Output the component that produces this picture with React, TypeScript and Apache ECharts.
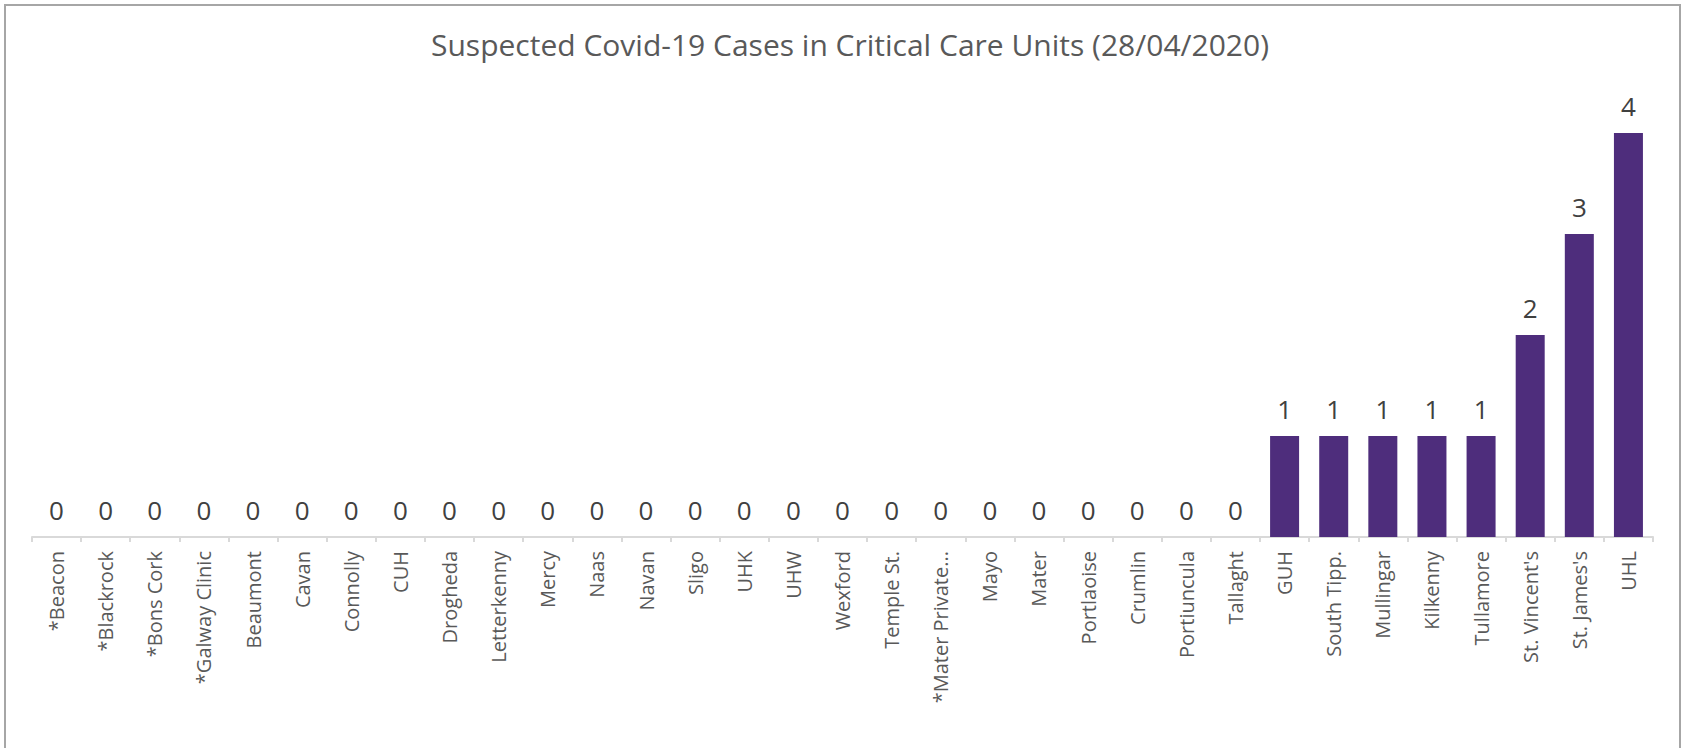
import React, { useEffect, useRef } from "react";
import * as echarts from "echarts";

const categories: string[] = [
  "*Beacon", "*Blackrock", "*Bons Cork", "*Galway Clinic", "Beaumont", "Cavan", "Connolly", "CUH",
  "Drogheda", "Letterkenny", "Mercy", "Naas", "Navan", "Sligo", "UHK", "UHW", "Wexford",
  "Temple St.", "*Mater Private...", "Mayo", "Mater", "Portlaoise", "Crumlin", "Portiuncula",
  "Tallaght", "GUH", "South Tipp.", "Mullingar", "Kilkenny", "Tullamore", "St. Vincent's",
  "St. James's", "UHL",
];

const cases: number[] = [
  0, 0, 0, 0, 0, 0, 0, 0, 0, 0, 0, 0, 0, 0, 0, 0, 0, 0, 0, 0, 0, 0, 0, 0, 0,
  1, 1, 1, 1, 1, 2, 3, 4,
];

const titleText = "Suspected Covid-19 Cases in Critical Care Units (28/04/2020)";

export default function App() {
  const ref = useRef<HTMLDivElement>(null);
  useEffect(() => {
    if (!ref.current) return;
    const chart = echarts.init(ref.current, undefined, { renderer: "svg" });
    chart.setOption({
      animation: false,
      backgroundColor: "#ffffff",
      title: {
        text: titleText,
        left: 845,
        textAlign: "center",
        top: 24,
        textStyle: {
          fontFamily: "Open Sans",
          fontSize: 30,
          fontWeight: "normal",
          color: "#595959",
        },
      },
      graphic: [
        {
          type: "rect",
          shape: { x: 5, y: 5, width: 1675, height: 800 },
          style: { fill: "none", stroke: "#a6a6a6", lineWidth: 2 },
          silent: true,
        },
      ],
      grid: { left: 32, right: 29, top: 32, bottom: 211, containLabel: false },
      xAxis: {
        type: "category",
        data: categories,
        axisLine: { lineStyle: { color: "#d9d9d9", width: 2 } },
        axisTick: { show: true, length: 5, lineStyle: { color: "#d9d9d9", width: 2 } },
        axisLabel: {
          rotate: 90,
          interval: 0,
          margin: 14,
          fontFamily: "Open Sans",
          fontSize: 20,
          color: "#595959",
        },
      },
      yAxis: {
        type: "value",
        min: 0,
        max: 5,
        show: false,
        splitLine: { show: false },
      },
      series: [
        {
          type: "bar",
          data: cases,
          barWidth: 29,
          itemStyle: { color: "#4e2d7c" },
          label: {
            show: true,
            position: "top",
            distance: 14,
            fontFamily: "Open Sans",
            fontSize: 26,
            color: "#404040",
          },
        },
      ],
    });
    return () => chart.dispose();
  }, []);
  return (
    <div
      ref={ref}
      style={{ position: "absolute", left: 0, top: 0, width: 1682, height: 748 }}
    />
  );
}
